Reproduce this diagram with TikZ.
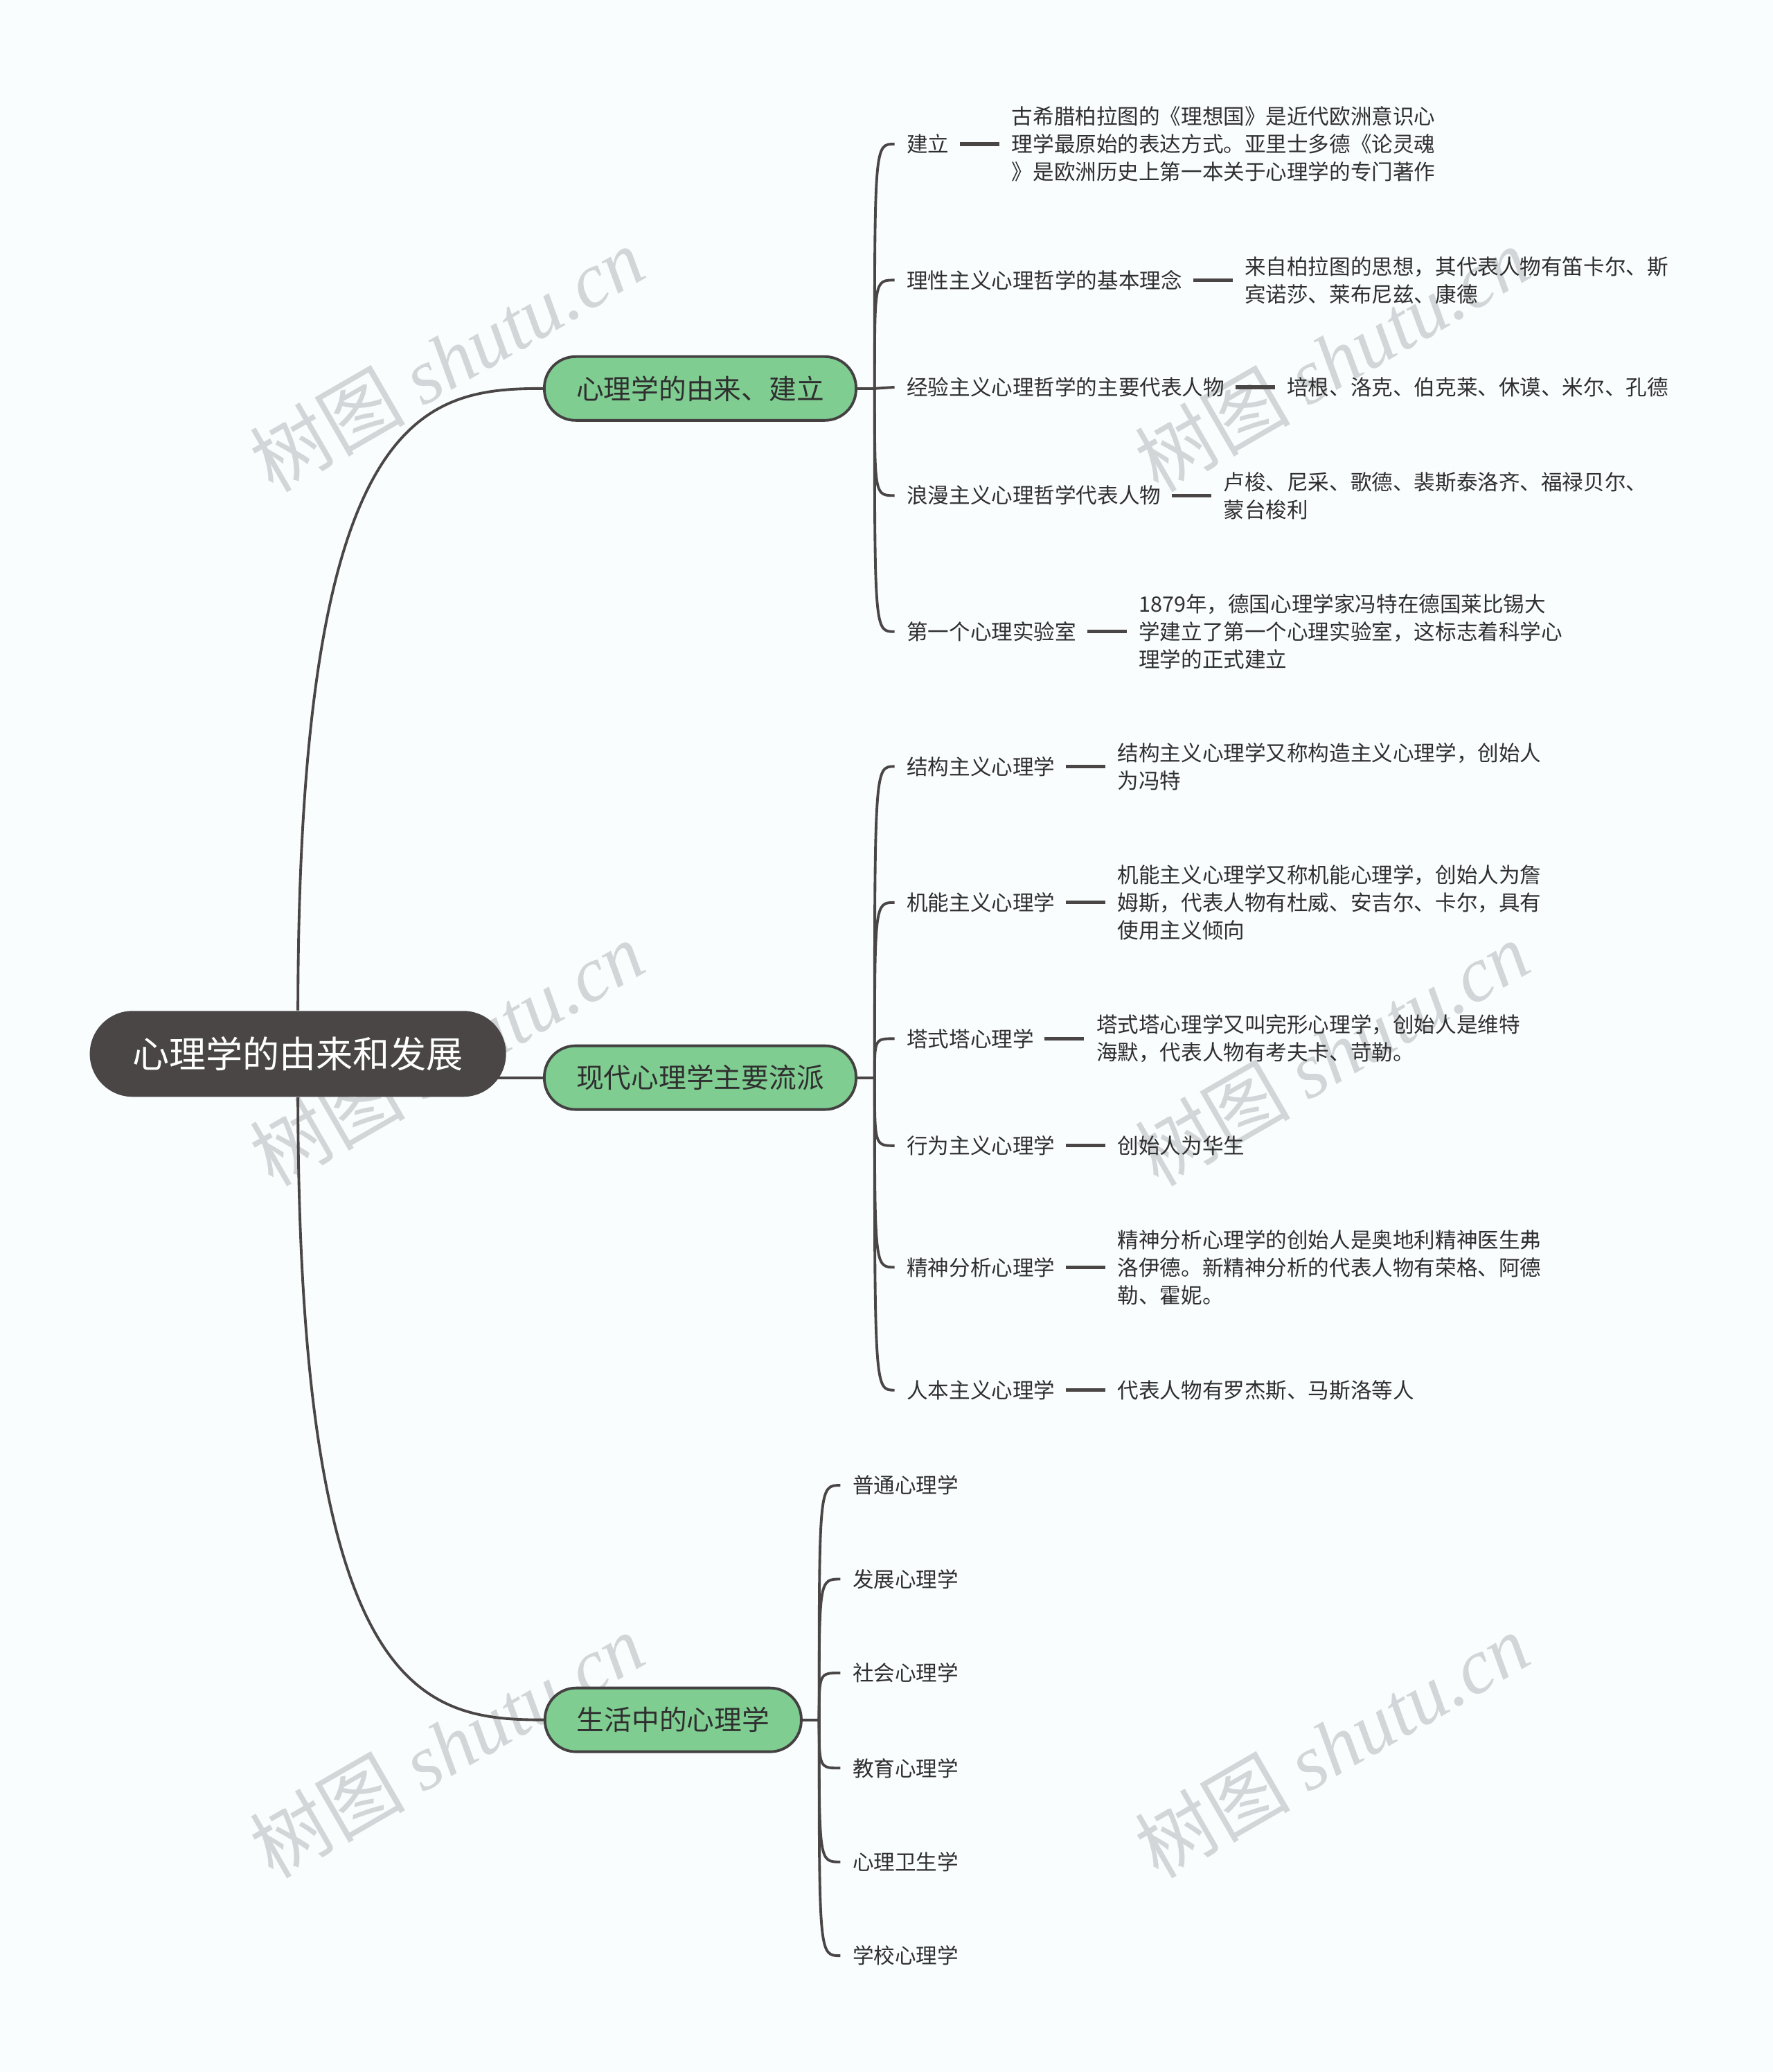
\documentclass[tikz,border=0pt]{standalone}
\usepackage{fontspec}
\setmainfont{Noto Sans CJK SC}
\newfontfamily\wmfont{Liberation Serif}
\usepackage{tikz}
\usetikzlibrary{positioning, backgrounds}
\definecolor{mmDark}{HTML}{4A4646}
\definecolor{mmLine}{HTML}{4A4646}
\definecolor{mmGreen}{HTML}{80CD92}
\definecolor{mmEdge}{HTML}{434141}
\definecolor{mmText}{HTML}{2F2F2F}
\definecolor{mmBg}{HTML}{FAFDFE}
\definecolor{mmMark}{HTML}{D2D6D8}
\tikzset{
  mmroot/.style={fill=mmDark, text=white, rounded corners=0.62cm, minimum width=6.01cm,
                 minimum height=1.24cm, inner sep=0pt, font=\fontsize{15.1}{18}\selectfont},
  mmbranch/.style={draw=mmEdge, line width=1.1pt, fill=mmGreen, text=mmText, rounded corners=0.45cm,
                   minimum height=0.92cm, inner sep=0pt, font=\fontsize{11.3}{14}\selectfont},
  mmitem/.style={anchor=west, inner sep=0pt, text=mmText, font=\fontsize{8.7}{11.4}\selectfont},
  mmnote/.style={inner sep=0pt, align=left, text=mmText, font=\fontsize{8.7}{11.4}\selectfont},
  mmlink/.style={draw=mmLine, line width=1.1pt},
  mmdash/.style={draw=mmLine, line width=1.5pt},
  mmmark/.style={text=mmMark, rotate=30, inner sep=0pt, font=\fontsize{32}{34}\selectfont},
}

\begin{document}
\begin{tikzpicture}[x=0.019076cm, y=-0.019076cm]
\useasboundingbox (0,0) rectangle (1342,1568);

\node[mmroot] (root) at (225.5,797.5) {心理学的由来和发展};
\node[mmbranch, minimum width=4.50cm] (b1) at (530,294) {心理学的由来、建立};
\node[mmbranch, minimum width=4.50cm] (b2) at (530,815.5) {现代心理学主要流派};
\node[mmbranch, minimum width=3.70cm] (b3) at (509.5,1301.5) {生活中的心理学};

\coordinate (h1) at (662,294);
\coordinate (h2) at (662,815.5);
\coordinate (h3) at (620,1301.5);

% 由来、建立
\node[mmitem] (a1) at (686,109) {建立};
\node[mmnote, right=0.89cm of a1] (n1) {古希腊柏拉图的《理想国》是近代欧洲意识心\\理学最原始的表达方式。亚里士多德《论灵魂\\》是欧洲历史上第一本关于心理学的专门著作};
\node[mmitem] (a2) at (686,212) {理性主义心理哲学的基本理念};
\node[mmnote, right=0.89cm of a2] (n2) {来自柏拉图的思想，其代表人物有笛卡尔、斯\\宾诺莎、莱布尼兹、康德};
\node[mmitem] (a3) at (686,293) {经验主义心理哲学的主要代表人物};
\node[mmnote, right=0.89cm of a3] (n3) {培根、洛克、伯克莱、休谟、米尔、孔德};
\node[mmitem] (a4) at (686,375) {浪漫主义心理哲学代表人物};
\node[mmnote, right=0.89cm of a4] (n4) {卢梭、尼采、歌德、裴斯泰洛齐、福禄贝尔、\\蒙台梭利};
\node[mmitem] (a5) at (686,478) {第一个心理实验室};
\node[mmnote, right=0.89cm of a5] (n5) {1879年，德国心理学家冯特在德国莱比锡大\\学建立了第一个心理实验室，这标志着科学心\\理学的正式建立};

% 主要流派
\node[mmitem] (p1) at (686,580) {结构主义心理学};
\node[mmnote, right=0.89cm of p1] (q1) {结构主义心理学又称构造主义心理学，创始人\\为冯特};
\node[mmitem] (p2) at (686,683) {机能主义心理学};
\node[mmnote, right=0.89cm of p2] (q2) {机能主义心理学又称机能心理学，创始人为詹\\姆斯，代表人物有杜威、安吉尔、卡尔，具有\\使用主义倾向};
\node[mmitem] (p3) at (686,786) {塔式塔心理学};
\node[mmnote, right=0.89cm of p3] (q3) {塔式塔心理学又叫完形心理学，创始人是维特\\海默，代表人物有考夫卡、苛勒。};
\node[mmitem] (p4) at (686,867) {行为主义心理学};
\node[mmnote, right=0.89cm of p4] (q4) {创始人为华生};
\node[mmitem] (p5) at (686,959) {精神分析心理学};
\node[mmnote, right=0.89cm of p5] (q5) {精神分析心理学的创始人是奥地利精神医生弗\\洛伊德。新精神分析的代表人物有荣格、阿德\\勒、霍妮。};
\node[mmitem] (p6) at (686,1052) {人本主义心理学};
\node[mmnote, right=0.89cm of p6] (q6) {代表人物有罗杰斯、马斯洛等人};

% 生活中的心理学
\node[mmitem] (s1) at (645,1124) {普通心理学};
\node[mmitem] (s2) at (645,1195) {发展心理学};
\node[mmitem] (s3) at (645,1266) {社会心理学};
\node[mmitem] (s4) at (645,1338) {教育心理学};
\node[mmitem] (s5) at (645,1409) {心理卫生学};
\node[mmitem] (s6) at (645,1480) {学校心理学};

\draw[mmdash] ([xshift=0.15cm]a1.east) -- ([xshift=-0.17cm]n1.west);
\draw[mmdash] ([xshift=0.15cm]a2.east) -- ([xshift=-0.17cm]n2.west);
\draw[mmdash] ([xshift=0.15cm]a3.east) -- ([xshift=-0.17cm]n3.west);
\draw[mmdash] ([xshift=0.15cm]a4.east) -- ([xshift=-0.17cm]n4.west);
\draw[mmdash] ([xshift=0.15cm]a5.east) -- ([xshift=-0.17cm]n5.west);
\draw[mmdash] ([xshift=0.15cm]p1.east) -- ([xshift=-0.17cm]q1.west);
\draw[mmdash] ([xshift=0.15cm]p2.east) -- ([xshift=-0.17cm]q2.west);
\draw[mmdash] ([xshift=0.15cm]p3.east) -- ([xshift=-0.17cm]q3.west);
\draw[mmdash] ([xshift=0.15cm]p4.east) -- ([xshift=-0.17cm]q4.west);
\draw[mmdash] ([xshift=0.15cm]p5.east) -- ([xshift=-0.17cm]q5.west);
\draw[mmdash] ([xshift=0.15cm]p6.east) -- ([xshift=-0.17cm]q6.west);

\begin{scope}[on background layer]
\fill[mmBg] (0,0) rectangle (1342,1568);
\node[mmmark] (m1) at (338,272) {树图 {\wmfont\itshape shutu.cn}};
\node[mmmark] (m2) at (1008,272) {树图 {\wmfont\itshape shutu.cn}};
\node[mmmark] (m3) at (338,797) {树图 {\wmfont\itshape shutu.cn}};
\node[mmmark] (m4) at (1008,797) {树图 {\wmfont\itshape shutu.cn}};
\node[mmmark] (m5) at (338,1321) {树图 {\wmfont\itshape shutu.cn}};
\node[mmmark] (m6) at (1008,1321) {树图 {\wmfont\itshape shutu.cn}};

\draw[mmlink] (root.north) .. controls (226,310) and (320,294) .. (b1.west);
\draw[mmlink] (root.south) .. controls (226,1285) and (320,1301.5) .. (b3.west);
\draw[mmlink] (root.center |- b2.west) -- (b2.west);

\draw[mmlink] (b1.east) -- (h1);
\draw[mmlink] (h1) .. controls (h1 |- a1.west) and (h1 |- a1.west) .. ([xshift=-0.17cm]a1.west);
\draw[mmlink] (h1) .. controls (h1 |- a2.west) and (h1 |- a2.west) .. ([xshift=-0.17cm]a2.west);
\draw[mmlink] (h1) -- ([xshift=-0.17cm]a3.west);
\draw[mmlink] (h1) .. controls (h1 |- a4.west) and (h1 |- a4.west) .. ([xshift=-0.17cm]a4.west);
\draw[mmlink] (h1) .. controls (h1 |- a5.west) and (h1 |- a5.west) .. ([xshift=-0.17cm]a5.west);

\draw[mmlink] (b2.east) -- (h2);
\draw[mmlink] (h2) .. controls (h2 |- p1.west) and (h2 |- p1.west) .. ([xshift=-0.17cm]p1.west);
\draw[mmlink] (h2) .. controls (h2 |- p2.west) and (h2 |- p2.west) .. ([xshift=-0.17cm]p2.west);
\draw[mmlink] (h2) .. controls (h2 |- p3.west) and (h2 |- p3.west) .. ([xshift=-0.17cm]p3.west);
\draw[mmlink] (h2) .. controls (h2 |- p4.west) and (h2 |- p4.west) .. ([xshift=-0.17cm]p4.west);
\draw[mmlink] (h2) .. controls (h2 |- p5.west) and (h2 |- p5.west) .. ([xshift=-0.17cm]p5.west);
\draw[mmlink] (h2) .. controls (h2 |- p6.west) and (h2 |- p6.west) .. ([xshift=-0.17cm]p6.west);

\draw[mmlink] (b3.east) -- (h3);
\draw[mmlink] (h3) .. controls (h3 |- s1.west) and (h3 |- s1.west) .. ([xshift=-0.17cm]s1.west);
\draw[mmlink] (h3) .. controls (h3 |- s2.west) and (h3 |- s2.west) .. ([xshift=-0.17cm]s2.west);
\draw[mmlink] (h3) .. controls (h3 |- s3.west) and (h3 |- s3.west) .. ([xshift=-0.17cm]s3.west);
\draw[mmlink] (h3) .. controls (h3 |- s4.west) and (h3 |- s4.west) .. ([xshift=-0.17cm]s4.west);
\draw[mmlink] (h3) .. controls (h3 |- s5.west) and (h3 |- s5.west) .. ([xshift=-0.17cm]s5.west);
\draw[mmlink] (h3) .. controls (h3 |- s6.west) and (h3 |- s6.west) .. ([xshift=-0.17cm]s6.west);
\end{scope}
\end{tikzpicture}
\end{document}
